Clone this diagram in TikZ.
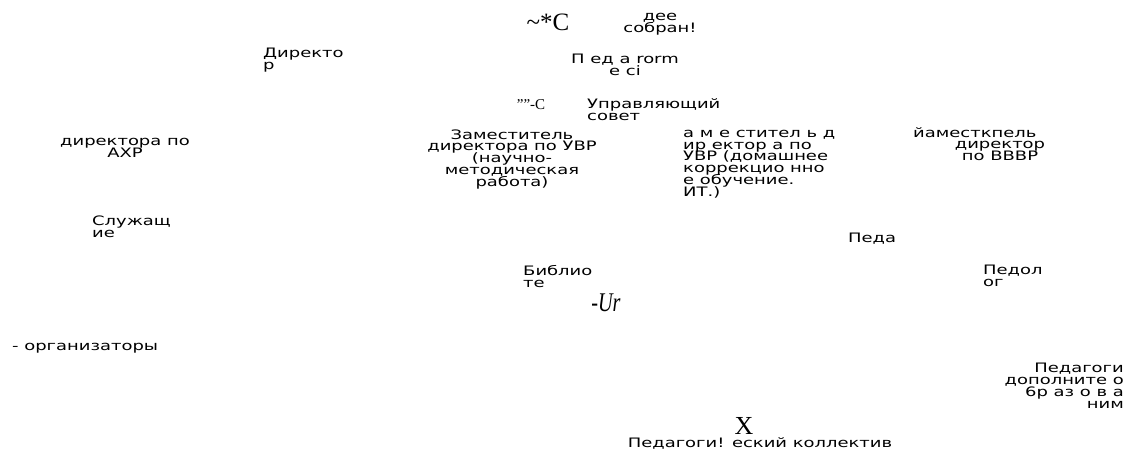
\documentclass[tikz,border=0pt]{standalone}
\usepackage{fontspec}
\setmainfont{Liberation Serif}
\newfontfamily\orgfont[FakeStretch=1.38]{DejaVu Sans}
\newcommand\orgsize{\orgfont\fontsize{13}{11.7}\selectfont\lineskiplimit=-20pt\relax}
\usetikzlibrary{positioning}

\begin{document}
\begin{tikzpicture}[x=1pt, y=-1pt,
  orgtext/.style={inner sep=0pt, font=\orgsize},
  glyph/.style={inner sep=0pt, font=\fontsize{25}{27}\selectfont}]
  \useasboundingbox (0,0) rectangle (1128,459);

  % top row
  \node[glyph, anchor=base] (tilde) at (548,30) {\textasciitilde*C};
  \node[orgtext, align=center, anchor=base] (sobr) at (660,32) {дее\\собран!};
  \node[orgtext, align=left, anchor=base west] (dir) at (263,69) {Директо\\р};
  \node[orgtext, align=center, anchor=base] (ped) at (625,75) {П ед а rorm\\е сi};
  \node[glyph, font=\fontsize{15}{17}\selectfont, anchor=base] (quote) at (531,109) {""-C};
  \node[orgtext, align=left, anchor=base west] (upr) at (587,120) {Управляющий\\совет};

  % deputies
  \node[orgtext, align=center, anchor=base] (axr) at (125,157) {директора по\\АХР};
  \node[orgtext, align=center, anchor=base] (zamuvr) at (512,186)
    {Заместитель\\директора по УВР\\(научно-\\методическая\\работа)};
  \node[orgtext, align=left, anchor=base west] (zamdom) at (683,196)
    {а м е стител ь д\\ир ектор а по\\УВР (домашнее\\коррекцио нно\\е обучение.\\ИТ.)};
  \node[orgtext, anchor=base west] (zamvr) at (913,137) {йаместкпель};
  \node[orgtext, align=center, anchor=base] (zamvrb) at (1000,160) {директор\\по ВВВР};

  % staff
  \node[orgtext, align=left, anchor=base west] (sluzh) at (92,237) {Служащ\\ие};
  \node[orgtext, anchor=base west] (peda) at (848,242) {Педа};
  \node[orgtext, align=left, anchor=base west] (bibl) at (523,287) {Библио\\те};
  \node[glyph, font=\fontsize{27}{29}\selectfont\itshape, anchor=base] (ur) at (606,311)
    {\scalebox{0.75}[1]{-Ur}};
  \node[orgtext, align=left, anchor=base west] (pedol) at (983,286) {Педол\\ог};
  \node[orgtext, anchor=base west] (org) at (12,350) {- организаторы};
  \node[orgtext, align=right, anchor=base east] (dop) at (1124,408)
    {Педагоги\\дополните о\\6р аз о в а\\ним};

  % bottom
  \node[glyph, font=\fontsize{26}{28}\selectfont, anchor=base] (x) at (744,434) {X};
  \node[orgtext, anchor=base] (koll) at (760,447) {Педагоги! еский коллектив};
\end{tikzpicture}
\end{document}
